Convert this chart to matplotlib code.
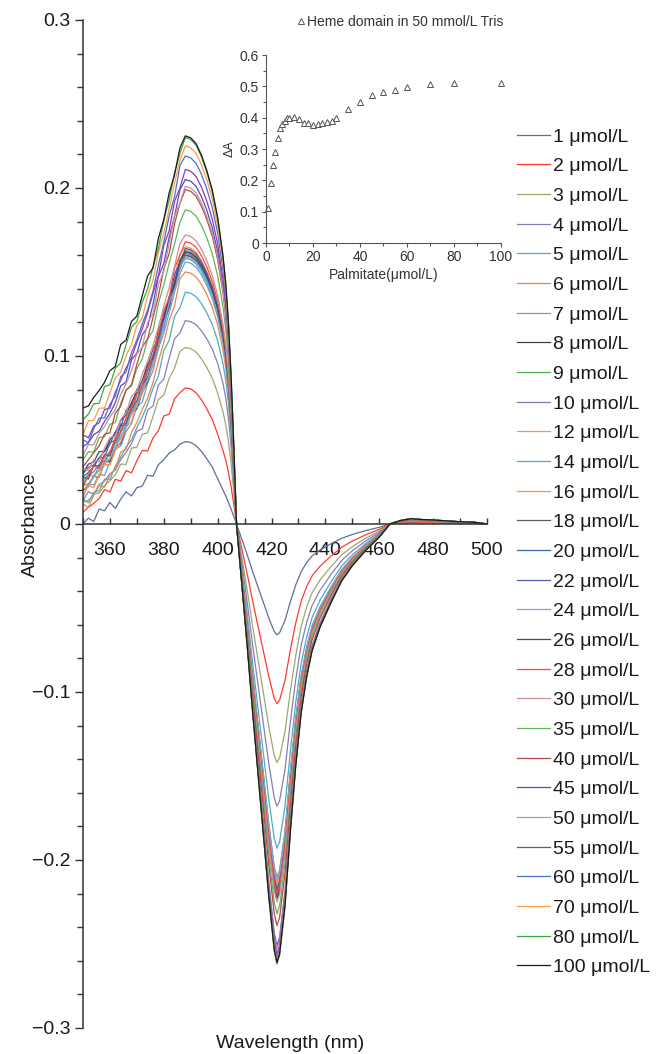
"""Difference spectra of heme domain titrated with palmitate, with Delta-A inset."""
import numpy as np
import matplotlib
matplotlib.use("Agg")
import matplotlib.pyplot as plt
import matplotlib.ticker as mticker

plt.rcParams["font.family"] = ["Liberation Sans", "DejaVu Sans"]

# ── data ─────────────────────────────────────────────────────────────
CONC = [1, 2, 3, 4, 5, 6, 7, 8, 9, 10, 12, 14, 16, 18, 20, 22, 24, 26, 28, 30,
        35, 40, 45, 50, 55, 60, 70, 80, 100]

# absorbance at 350 nm, at the 388 nm peak and at the 422 nm trough
A350 = [0.000, 0.008, 0.012, 0.015, 0.012, 0.010, 0.018, 0.020, 0.022, 0.025,
        0.020, 0.024, 0.018, 0.026, 0.028, 0.030, 0.022, 0.032, 0.025, 0.030,
        0.038, 0.035, 0.045, 0.042, 0.050, 0.048, 0.055, 0.062, 0.068]
PEAK = [0.049, 0.081, 0.105, 0.121, 0.138, 0.150, 0.156, 0.160, 0.163, 0.161,
        0.165, 0.158, 0.163, 0.160, 0.162, 0.164, 0.159, 0.162, 0.168, 0.172,
        0.187, 0.199, 0.205, 0.201, 0.211, 0.219, 0.225, 0.230, 0.231]
TROUGH = [-0.066, -0.107, -0.142, -0.168, -0.193, -0.210, -0.213, -0.220, -0.222, -0.218,
          -0.214, -0.211, -0.215, -0.221, -0.219, -0.217, -0.212, -0.223, -0.220, -0.225,
          -0.232, -0.239, -0.251, -0.253, -0.256, -0.258, -0.260, -0.262, -0.261]

# spectral shapes read from the lowest (1 umol/L) and highest curves
RISE_WL = list(range(350, 389, 2))
RISE_LO = [0.00, 0.03, 0.07, 0.12, 0.18, 0.22, 0.25, 0.28, 0.33, 0.38,
           0.42, 0.48, 0.55, 0.62, 0.70, 0.78, 0.84, 0.92, 0.97, 1.00]
RISE_HI = [0.00, 0.02, 0.045, 0.07, 0.10, 0.13, 0.17, 0.22, 0.26, 0.31,
           0.36, 0.41, 0.47, 0.53, 0.62, 0.70, 0.78, 0.87, 0.95, 1.00]
RIPPLE = [0.000, 0.002, -0.002, 0.003, -0.001, 0.002, -0.003, 0.001, 0.003, -0.002,
          0.001, -0.001, 0.002, -0.002, 0.001, 0.000, 0.001, -0.001, 0.000, 0.000]

FALL_WL = [390, 392, 394, 396, 398, 400, 402, 403, 404, 405, 406]
FALL_LO = [0.99, 0.95, 0.88, 0.79, 0.69, 0.55, 0.41, 0.34, 0.26, 0.18, 0.09]
FALL_HI = [0.995, 0.98, 0.95, 0.91, 0.86, 0.79, 0.69, 0.62, 0.52, 0.38, 0.20]

NEG_WL = [407, 409, 411, 413, 415, 417, 419, 421, 422, 423, 425, 427, 429, 431, 433,
          435, 438, 442, 446, 450, 455, 460, 464, 468, 472, 476, 480, 485, 490, 495, 500]
NEG_SHAPE = [0.0, 0.14, 0.28, 0.43, 0.57, 0.71, 0.85, 0.97, 1.0, 0.98, 0.87, 0.70, 0.55,
             0.43, 0.35, 0.29, 0.235, 0.18, 0.13, 0.095, 0.06, 0.03, 0.0, -0.008,
             -0.012, -0.010, -0.009, -0.007, -0.005, -0.004, 0.0]

COLORS = ["#5B6F9B", "#FF3B2F", "#9BAA6B", "#8B7BB8", "#4BACC6", "#E8874A", "#6C9BD2",
          "#404040", "#4DAF4A", "#8A74B0", "#F7964A", "#4BACC6", "#F79646", "#5F5F4F",
          "#3A66B0", "#4A5DBF", "#7FA7DD", "#3F4A66", "#FF4A3A", "#CC9090", "#5CB85C",
          "#B54A45", "#4B50C0", "#C99090", "#9A35B5", "#4A6FD0", "#FF9A4A", "#3AA83A",
          "#1A1A1A"]

# inset: Delta A vs palmitate
DA = [0.111, 0.191, 0.249, 0.290, 0.334, 0.366, 0.380, 0.391, 0.398, 0.398,
      0.403, 0.396, 0.384, 0.382, 0.376, 0.380, 0.384, 0.386, 0.391, 0.398,
      0.429, 0.451, 0.472, 0.483, 0.488, 0.497, 0.507, 0.512, 0.512]

TXT = "#1A1A1A"
AX_CLR = "#333333"

fig = plt.figure(figsize=(6.56, 10.54), dpi=100, facecolor="white")
ax = fig.add_axes([0.1265, 0.0247, 0.6159, 0.9564])

wl = np.array(RISE_WL + FALL_WL + NEG_WL, dtype=float)
handles = []
for i, c in enumerate(CONC):
    w = np.clip((PEAK[i] - PEAK[0]) / 0.07, 0, 1)
    rise = (1 - w) * np.array(RISE_LO) + w * np.array(RISE_HI)
    fall = (1 - w) * np.array(FALL_LO) + w * np.array(FALL_HI)
    ripple = np.roll(RIPPLE, 3 * i)
    ripple[-1] = 0
    y_rise = A350[i] + (PEAK[i] - A350[i]) * rise + ripple
    y_fall = PEAK[i] * fall
    y_neg = -TROUGH[i] * -np.array(NEG_SHAPE)
    y = np.concatenate([y_rise, y_fall, y_neg])
    h, = ax.plot(wl, y, color=COLORS[i], lw=0.9, label=f"{c} \u03bcmol/L")
    handles.append(h)

ax.set_xlim(350, 500)
ax.set_ylim(-0.3, 0.3)
ax.spines["bottom"].set_position(("data", 0))
ax.spines["top"].set_visible(False)
ax.spines["right"].set_visible(False)
for s in ("left", "bottom"):
    ax.spines[s].set_color(AX_CLR)
    ax.spines[s].set_linewidth(1.1)

ax.set_xticks(range(360, 501, 20))
ax.xaxis.set_minor_locator(mticker.FixedLocator(range(350, 501, 10)))
ax.set_yticks([-0.3, -0.2, -0.1, 0, 0.1, 0.2, 0.3])
ax.yaxis.set_minor_locator(mticker.MultipleLocator(0.02))
ax.yaxis.set_major_formatter(mticker.FuncFormatter(
    lambda v, _: "0" if abs(v) < 1e-9 else f"{v:.1f}".replace("-", "\u2212")))
ax.tick_params(axis="x", which="both", direction="in", length=4, width=1,
               color=AX_CLR, labelsize=14, labelcolor=TXT, pad=13)
ax.tick_params(axis="y", which="major", direction="out", length=6, width=1,
               color=AX_CLR, labelsize=14, labelcolor=TXT, pad=3)
ax.tick_params(axis="y", which="minor", direction="out", length=4, width=1, color=AX_CLR)

fig.text(30 / 656, 1 - 525 / 1054, "Absorbance", rotation=90, ha="center", va="center",
         fontsize=14, color=TXT)
fig.text(290 / 656, 1 - 1043 / 1054, "Wavelength (nm)", ha="center", va="center",
         fontsize=14, color=TXT)

fig.legend(handles=handles, loc="upper left", bbox_to_anchor=(517 / 656, 1 - 128 / 1054),
           frameon=False, fontsize=14, handlelength=1.7, handletextpad=0.15,
           labelspacing=0.62, borderpad=0, borderaxespad=0, labelcolor=TXT)

# ── inset ────────────────────────────────────────────────────────────
ax_in = fig.add_axes([0.4055, 0.7694, 0.358, 0.1784])
ax_in.set_facecolor("none")
pts, = ax_in.plot(CONC, DA, linestyle="none", marker="^", ms=4.5, mfc="white",
                  mec="#555555", mew=0.7, clip_on=False)
ax_in.set_xlim(0, 100)
ax_in.set_ylim(0, 0.6)
ax_in.spines["top"].set_visible(False)
ax_in.spines["right"].set_visible(False)
for s in ("left", "bottom"):
    ax_in.spines[s].set_color("#555555")
    ax_in.spines[s].set_linewidth(0.8)
ax_in.set_xticks(range(0, 101, 20))
ax_in.xaxis.set_minor_locator(mticker.MultipleLocator(10))
ax_in.set_yticks([0, 0.1, 0.2, 0.3, 0.4, 0.5, 0.6])
ax_in.yaxis.set_minor_locator(mticker.MultipleLocator(0.05))
ax_in.yaxis.set_major_formatter(mticker.FuncFormatter(
    lambda v, _: "0" if abs(v) < 1e-9 else f"{v:.1f}"))
ax_in.tick_params(which="major", direction="out", length=3, width=0.8, color="#555555",
                  labelsize=10, labelcolor="#333333", pad=2)
ax_in.tick_params(which="minor", direction="out", length=2, width=0.8, color="#555555")
ax_in.set_xlabel("Palmitate(\u03bcmol/L)", fontsize=10, color="#333333", labelpad=3)
ax_in.set_ylabel("\u0394A", fontsize=9, color="#333333", labelpad=3)
ax_in.legend([pts], ["Heme domain in 50 mmol/L Tris"], loc="center",
             bbox_to_anchor=(400 / 656, 1 - 22 / 1054), bbox_transform=fig.transFigure,
             frameon=False, fontsize=10, handlelength=0.6, handletextpad=0.1,
             borderpad=0, labelcolor="#333333")

fig.savefig("out.png", dpi=100, facecolor="white")
